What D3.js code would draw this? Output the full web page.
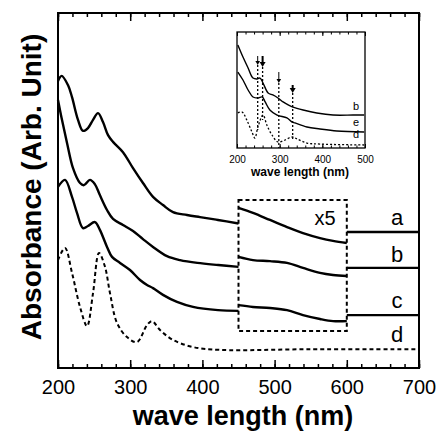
<!DOCTYPE html>
<meta charset="utf-8">
<style>
  body { margin: 0; background: #fff; }
  text { font-family: Arial, "Liberation Sans", Helvetica, sans-serif; fill: #000; }
  .frame { fill: none; stroke: #000; stroke-width: 2; }
  .curve { fill: none; stroke: #000; stroke-width: 2.4; stroke-linejoin: round; }
  .dash { fill: none; stroke: #000; stroke-width: 2; stroke-dasharray: 4,3; }
  .axis line { stroke: #000; stroke-width: 1.5; }
  .axis path { display: none; }
  .inset .curve { stroke-width: 1.4; }
  .inset .dash { stroke-width: 1.3; stroke-dasharray: 2,2; }
  .inset .frame { stroke-width: 1.3; }
  .inset .axis line { stroke-width: 1; }
</style>
<svg width="438" height="431"></svg>
<script src="https://d3js.org/d3.v7.min.js"></script>
<script>

// main spectra, left part (200-450 nm)
var aWave = [200, 205, 213.8, 219.4, 227.7, 234.6, 241.5, 248.5, 255.4, 262.3, 269.3, 276.2, 290, 303.9, 317.7, 331.6, 345.4, 359.3, 378.7, 396.7, 421.6, 450];
var aAbs  = [0.808, 0.823, 0.797, 0.763, 0.699, 0.668, 0.676, 0.699, 0.718, 0.693, 0.656, 0.637, 0.608, 0.563, 0.521, 0.482, 0.459, 0.439, 0.431, 0.425, 0.417, 0.407];
var bWave = [200, 205.5, 212.5, 220.8, 230.5, 236, 244.3, 251, 258, 267.9, 276.2, 290, 303.9, 317.7, 331.6, 351, 369, 393, 422, 450];
var bAbs  = [0.755, 0.699, 0.634, 0.563, 0.521, 0.515, 0.530, 0.518, 0.487, 0.445, 0.420, 0.403, 0.386, 0.363, 0.341, 0.315, 0.304, 0.296, 0.290, 0.285];
var cWave = [200, 209.7, 219.4, 226.3, 234.6, 241.5, 251.2, 258, 267.9, 274.8, 285.9, 299.7, 313.6, 323.3, 331.6, 345.4, 364.8, 387, 421.6, 450];
var cAbs  = [0.510, 0.530, 0.482, 0.437, 0.394, 0.400, 0.411, 0.389, 0.341, 0.313, 0.296, 0.276, 0.248, 0.234, 0.225, 0.206, 0.186, 0.172, 0.163, 0.161];
var dWave = [200, 209.7, 219.4, 230.5, 240.2, 248.5, 256.8, 265.1, 272, 281.7, 295.6, 309.4, 323.3, 330.2, 341.3, 359.3, 387, 424.4, 550, 700];
var dAbs  = [0.304, 0.338, 0.268, 0.172, 0.118, 0.211, 0.324, 0.285, 0.211, 0.127, 0.087, 0.073, 0.121, 0.132, 0.107, 0.079, 0.059, 0.051, 0.053, 0.053];

// x5 magnified part (450-600 nm)
var boxWave = [450, 470, 493.6, 517.2, 539.3, 562.9, 580.9, 600];
var aBoxAbs = [0.451, 0.437, 0.417, 0.397, 0.380, 0.366, 0.358, 0.352];
var bBoxAbs = [0.313, 0.304, 0.301, 0.296, 0.282, 0.268, 0.262, 0.259];
var cBoxAbs = [0.177, 0.172, 0.169, 0.163, 0.149, 0.138, 0.132, 0.132];
var boxRange = [450, 600];
var boxAbs = [0.104, 0.473];

// flat part (600-700 nm)
var tailWave = [600, 700];
var tailAbs = { a: 0.383, b: 0.282, c: 0.149 };

var curveNames = ["a", "b", "c", "d"];
var labelAbs = [0.403, 0.298, 0.168, 0.072];
var xTicks = [200, 300, 400, 500, 600, 700];

// inset spectra
var ibWave = [202, 214, 226, 237.5, 247, 254, 261, 273, 284, 296, 308, 320, 331, 355, 387, 425, 472, 498];
var ibAbs  = [0.888, 0.784, 0.690, 0.603, 0.595, 0.603, 0.560, 0.474, 0.457, 0.431, 0.397, 0.371, 0.353, 0.328, 0.302, 0.284, 0.284, 0.284];
var ieWave = [202, 214, 226, 237.5, 249, 259, 266, 277, 294, 317, 329, 336, 364, 394.5, 434, 498];
var ieAbs  = [0.655, 0.586, 0.500, 0.440, 0.431, 0.440, 0.397, 0.328, 0.284, 0.259, 0.224, 0.216, 0.181, 0.164, 0.147, 0.138];
var idWave = [202, 212, 223, 235, 242, 249, 261, 270, 282, 296, 312.5, 329, 340.6, 364, 394.5, 498];
var idAbs  = [0.302, 0.310, 0.241, 0.138, 0.086, 0.181, 0.284, 0.198, 0.112, 0.052, 0.069, 0.095, 0.078, 0.043, 0.034, 0.026];
var insetNames = ["b", "e", "d"];
var insetLabelAbs = [0.33, 0.19, 0.085];
var insetTicks = [200, 300, 400, 500];

// arrows and dotted guides in the inset
var markWave = [248.5, 260, 298, 330.5];
var markTop = [0.793, 0.793, 0.655, 0.543];
var markArrowEnd = [0.716, 0.698, 0.560, 0.474];
var markBottom = [0.155, 0.241, 0.0, 0.069];
var markBold = [false, true, false, true];

var svg = d3.select("svg");

var x = d3.scaleLinear().domain([200, 700]).range([58, 419]);
var y = d3.scaleLinear().domain([0, 1]).range([368, 13]);

var line = d3.line()
  .x(function(d) { return x(d[0]); })
  .y(function(d) { return y(d[1]); })
  .curve(d3.curveCatmullRom);

function pairs(w, v) { return w.map(function(d, i) { return [d, v[i]]; }); }

// axes ticks (inward, top and bottom)
var minor = d3.range(200, 701, 20);
svg.append("g").attr("class", "axis").attr("transform", "translate(0,368)")
  .call(d3.axisBottom(x).tickValues(minor).tickSize(-4).tickFormat(""));
svg.append("g").attr("class", "axis").attr("transform", "translate(0,13)")
  .call(d3.axisTop(x).tickValues(minor).tickSize(-4).tickFormat(""));
svg.append("g").attr("class", "axis").attr("transform", "translate(0,13)")
  .call(d3.axisTop(x).tickValues(xTicks).tickSize(-8).tickFormat(""));
var xb = svg.append("g").attr("class", "axis").attr("transform", "translate(0,368)")
  .call(d3.axisBottom(x).tickValues(xTicks).tickSize(-8).tickPadding(12).tickFormat(d3.format("d")));
xb.selectAll("text").style("font-size", "20px").attr("fill", "#000");

svg.append("rect").attr("class", "frame")
  .attr("x", x(200)).attr("y", y(1))
  .attr("width", x(700) - x(200)).attr("height", y(0) - y(1));

// curves
[[aWave, aAbs], [bWave, bAbs], [cWave, cAbs]].forEach(function(s) {
  svg.append("path").attr("class", "curve").attr("d", line(pairs(s[0], s[1])));
});
[aBoxAbs, bBoxAbs, cBoxAbs].forEach(function(v) {
  svg.append("path").attr("class", "curve").attr("d", line(pairs(boxWave, v)));
});
["a", "b", "c"].forEach(function(k) {
  svg.append("path").attr("class", "curve")
    .attr("d", line(tailWave.map(function(w) { return [w, tailAbs[k]]; })));
});
svg.append("path").attr("class", "dash").attr("d", line(pairs(dWave, dAbs)));

// dashed box for x5 region
svg.append("rect").attr("class", "dash")
  .attr("x", x(boxRange[0])).attr("y", y(boxAbs[1]))
  .attr("width", x(boxRange[1]) - x(boxRange[0]))
  .attr("height", y(boxAbs[0]) - y(boxAbs[1]));
svg.append("text").attr("x", 325).attr("y", 225)
  .attr("text-anchor", "middle").style("font-size", "20px").text("x5");

svg.selectAll(".lbl").data(curveNames).enter().append("text")
  .attr("class", "lbl")
  .attr("x", 397)
  .attr("y", function(d, i) { return y(labelAbs[i]); })
  .attr("text-anchor", "middle")
  .style("font-size", "22px")
  .text(function(d) { return d; });

// axis titles
svg.append("text").attr("x", 243).attr("y", 425)
  .attr("text-anchor", "middle").style("font-size", "27px").style("font-weight", "bold")
  .text("wave length (nm)");
svg.append("text").attr("transform", "translate(41,187) rotate(-90)")
  .attr("text-anchor", "middle").style("font-size", "28px").style("font-weight", "bold")
  .text("Absorbance (Arb. Unit)");

// inset
var ix = d3.scaleLinear().domain([200, 500]).range([237, 365]);
var iy = d3.scaleLinear().domain([0, 1]).range([148, 32]);
var iline = d3.line()
  .x(function(d) { return ix(d[0]); })
  .y(function(d) { return iy(d[1]); })
  .curve(d3.curveCatmullRom);

var inset = svg.append("g").attr("class", "inset");
var iminor = d3.range(200, 501, 20);
inset.append("g").attr("class", "axis").attr("transform", "translate(0,148)")
  .call(d3.axisBottom(ix).tickValues(iminor).tickSize(-2.5).tickFormat(""));
inset.append("g").attr("class", "axis").attr("transform", "translate(0,32)")
  .call(d3.axisTop(ix).tickValues(iminor).tickSize(-2.5).tickFormat(""));
inset.append("g").attr("class", "axis").attr("transform", "translate(0,32)")
  .call(d3.axisTop(ix).tickValues(insetTicks).tickSize(-4).tickFormat(""));
var ixb = inset.append("g").attr("class", "axis").attr("transform", "translate(0,148)")
  .call(d3.axisBottom(ix).tickValues(insetTicks).tickSize(-4).tickPadding(8).tickFormat(d3.format("d")));
ixb.selectAll("text").style("font-size", "10px").attr("fill", "#000");

inset.append("rect").attr("class", "frame")
  .attr("x", ix(200)).attr("y", iy(1))
  .attr("width", ix(500) - ix(200)).attr("height", iy(0) - iy(1));

inset.append("path").attr("class", "curve").attr("d", iline(pairs(ibWave, ibAbs)));
inset.append("path").attr("class", "curve").attr("d", iline(pairs(ieWave, ieAbs)));
inset.append("path").attr("class", "dash").attr("d", iline(pairs(idWave, idAbs)));

markWave.forEach(function(w, i) {
  var xx = ix(w);
  inset.append("line").attr("class", "dash")
    .attr("x1", xx).attr("x2", xx)
    .attr("y1", iy(markArrowEnd[i])).attr("y2", iy(markBottom[i]));
  var hw = markBold[i] ? 3 : 2.3, hh = markBold[i] ? 5 : 4;
  var yb = iy(markArrowEnd[i]);
  inset.append("line")
    .attr("x1", xx).attr("x2", xx)
    .attr("y1", iy(markTop[i])).attr("y2", yb - hh + 1)
    .attr("stroke", "#000").attr("stroke-width", markBold[i] ? 2 : 1);
  inset.append("path")
    .attr("d", "M" + (xx - hw) + "," + (yb - hh) + "L" + (xx + hw) + "," + (yb - hh) + "L" + xx + "," + yb + "Z")
    .attr("fill", "#000");
});

inset.selectAll(".ilbl").data(insetNames).enter().append("text")
  .attr("class", "ilbl")
  .attr("x", 356)
  .attr("y", function(d, i) { return iy(insetLabelAbs[i]); })
  .attr("text-anchor", "middle")
  .attr("fill", "#000")
  .style("font-size", "11px")
  .text(function(d) { return d; });

inset.append("text").attr("x", 300).attr("y", 176)
  .attr("text-anchor", "middle").style("font-size", "12px").style("font-weight", "bold")
  .text("wave length (nm)");

</script>
